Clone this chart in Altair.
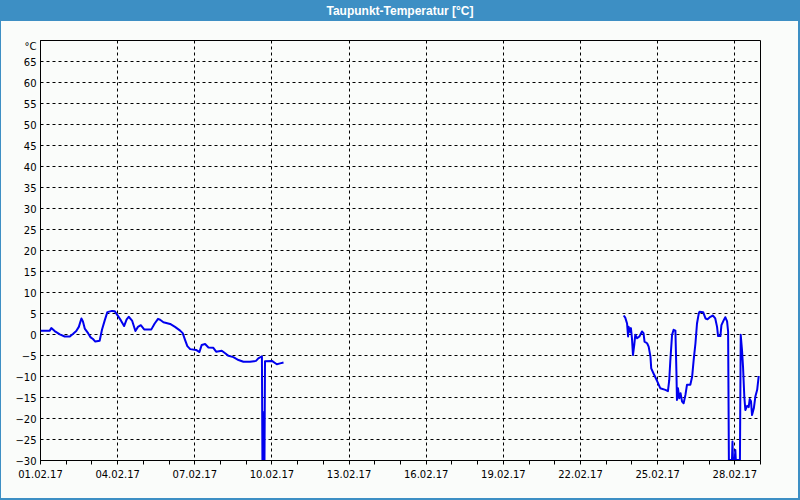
import altair as alt
import pandas as pd

# Segment 1 (day of February, fractional) and dew point values [°C]
seg1_day = [1.03, 1.38, 1.44, 1.57, 1.77, 1.96, 2.16, 2.28, 2.41, 2.51,
            2.61, 2.67, 2.74, 2.87, 2.97, 3.06, 3.15, 3.32, 3.41, 3.52,
            3.62, 3.80, 3.91, 4.01, 4.14, 4.27, 4.37, 4.45, 4.58, 4.71,
            4.81, 4.92, 5.05, 5.33, 5.46, 5.59, 5.67, 5.80, 6.06, 6.25,
            6.45, 6.55, 6.64, 6.73, 6.84, 7.07, 7.20, 7.29, 7.42, 7.55,
            7.74, 7.85, 8.07, 8.20, 8.33, 8.52, 8.72, 8.91, 9.17, 9.40,
            9.49, 9.63, 9.65, 9.70, 9.72, 9.73, 9.75, 10.02, 10.21, 10.34,
            10.47]
seg1_val = [0.8, 0.8, 1.4, 0.7, -0.1, -0.6, -0.6, 0.0, 0.7, 1.7,
            3.7, 3.0, 1.3, 0.2, -0.8, -1.2, -1.8, -1.6, 1.0, 3.3,
            5.2, 5.5, 5.4, 4.5, 3.3, 1.9, 3.5, 4.1, 3.2, 0.7,
            1.7, 2.1, 1.1, 1.1, 2.5, 3.6, 3.4, 2.8, 2.4, 1.7,
            0.8, 0.2, -1.4, -2.9, -3.6, -3.8, -4.3, -2.6, -2.4, -3.2,
            -3.3, -4.2, -4.0, -4.6, -5.2, -5.5, -6.2, -6.6, -6.6, -6.4,
            -5.8, -5.3, -30, -30, -18.5, -30, -6.5, -6.4, -7.2, -7.0,
            -6.8]

# Segment 2
seg2_day = [23.70, 23.76, 23.83, 23.87, 23.89, 23.95, 23.98, 24.02, 24.06, 24.11,
            24.15, 24.22, 24.31, 24.41, 24.47, 24.51, 24.61, 24.67, 24.74, 24.77,
            24.86, 25.00, 25.12, 25.32, 25.42, 25.47, 25.51, 25.58, 25.64, 25.71,
            25.75, 25.77, 25.81, 25.86, 25.91, 25.97, 26.03, 26.10, 26.16, 26.29,
            26.36, 26.42, 26.49, 26.55, 26.62, 26.65, 26.79, 26.88, 26.96, 27.07,
            27.17, 27.26, 27.33, 27.37, 27.46, 27.50, 27.59, 27.65, 27.72, 27.76,
            27.79, 27.91, 27.93, 27.95, 28.02, 28.04, 28.06, 28.22, 28.25, 28.30,
            28.34, 28.39, 28.43, 28.50, 28.56, 28.60, 28.65, 28.69, 28.76, 28.82,
            28.89, 28.95]
seg2_val = [4.4, 3.9, 2.5, -0.6, 1.7, 0.5, 1.4, -1.0, -5.0, -2.6,
            -0.2, -1.0, -0.6, 0.6, 0.2, -1.8, -2.2, -3.0, -5.4, -8.2,
            -9.4, -11.2, -12.9, -13.3, -13.6, -11.0, -6.6, -0.2, 1.0, 0.8,
            -9.0, -15.7, -12.9, -15.3, -14.1, -16.1, -16.5, -14.5, -12.1, -12.1,
            -10.2, -6.2, -2.2, 2.5, 4.9, 5.3, 5.2, 3.7, 3.5, 4.1,
            4.4, 3.7, 1.7, -0.5, -0.5, 2.1, 3.3, 4.0, 3.0, 0.6,
            -30, -30, -25.6, -30, -30, -27.6, -30, -30, -0.2, -3.8,
            -7.8, -14.9, -18.1, -17.1, -17.4, -15.5, -16.0, -19.3, -17.7, -14.9,
            -13.3, -10.0]

y_ticks = list(range(-30, 75, 5))
x_days = list(range(1, 29))
title_text = "Taupunkt-Temperatur [°C]"

rows = []
for s, (days, vals) in enumerate([(seg1_day, seg1_val), (seg2_day, seg2_val)]):
    for d, v in zip(days, vals):
        t = pd.Timestamp("2017-02-01") + pd.Timedelta(days=d - 1)
        rows.append({"t": t, "v": v, "seg": s})
df = pd.DataFrame(rows)

x_values = [alt.DateTime(year=2017, month=2, date=d) for d in x_days] + [
    alt.DateTime(year=2017, month=3, date=1)]
major = "(month(datum.value)==1 && (date(datum.value)-1)%3==0)"

x_axis = alt.Axis(
    values=x_values, format="%d.%m.%y",
    labelExpr=f"{major} ? datum.label : ''",
    tickSize=4, tickColor="black", domainColor="black",
    labelFont="DejaVu Sans", labelFontSize=10, labelColor="black",
    labelPadding=5, labelOverlap=False, labelFlush=False,
    grid=True, gridColor="black", gridDash=[3, 3],
    gridOpacity={"condition": {"test": f"{major} && date(datum.value)>1", "value": 1}, "value": 0},
    title=None,
)
y_axis = alt.Axis(
    values=y_ticks,
    labelExpr="datum.value==70 ? '°C' : datum.label",
    ticks=False, labelPadding=4, domainColor="black",
    labelFont="DejaVu Sans", labelFontSize=10, labelColor="black",
    labelBaseline={"condition": {"test": "datum.value==70", "value": "top"}, "value": "middle"},
    labelOffset=1, labelOverlap=False, labelFlush=False,
    grid=True, gridColor="black", gridDash=[3, 3], title=None,
)

line = alt.Chart(df).mark_line(color="#0000ee", strokeWidth=2, clip=True, strokeJoin="round").encode(
    x=alt.X("t:T", axis=x_axis,
            scale=alt.Scale(domain=[alt.DateTime(year=2017, month=2, date=1),
                                    alt.DateTime(year=2017, month=3, date=1)])),
    y=alt.Y("v:Q", axis=y_axis, scale=alt.Scale(domain=[-30, 70], nice=False)),
    detail="seg:N",
)

one = pd.DataFrame({"k": [0]})
blue = "#3d8fc4"
bar = alt.Chart(one).mark_rect(color=blue).encode(
    x=alt.value(-40), x2=alt.value(760), y=alt.value(-40), y2=alt.value(-19))
left_b = alt.Chart(one).mark_rect(color=blue).encode(
    x=alt.value(-40), x2=alt.value(-39), y=alt.value(-40), y2=alt.value(460))
right_b = alt.Chart(one).mark_rect(color=blue).encode(
    x=alt.value(758), x2=alt.value(760), y=alt.value(-40), y2=alt.value(460))
bottom_b = alt.Chart(one).mark_rect(color=blue).encode(
    x=alt.value(-40), x2=alt.value(760), y=alt.value(458), y2=alt.value(460))
title = alt.Chart(one).mark_text(
    text=title_text, color="white", font="Liberation Sans", fontSize=12,
    fontWeight="bold", align="center", baseline="middle").encode(
    x=alt.value(360), y=alt.value(-29.5))

chart = alt.layer(line, bar, left_b, right_b, bottom_b, title).properties(
    width=720, height=420,
    autosize=alt.AutoSizeParams(type="none"),
    padding={"left": 40, "top": 40, "right": 40, "bottom": 40},
    background="#fafcfa",
).configure_view(stroke="black", strokeWidth=1)

chart.save("out.html", embed_options={"renderer": "svg", "actions": False})
